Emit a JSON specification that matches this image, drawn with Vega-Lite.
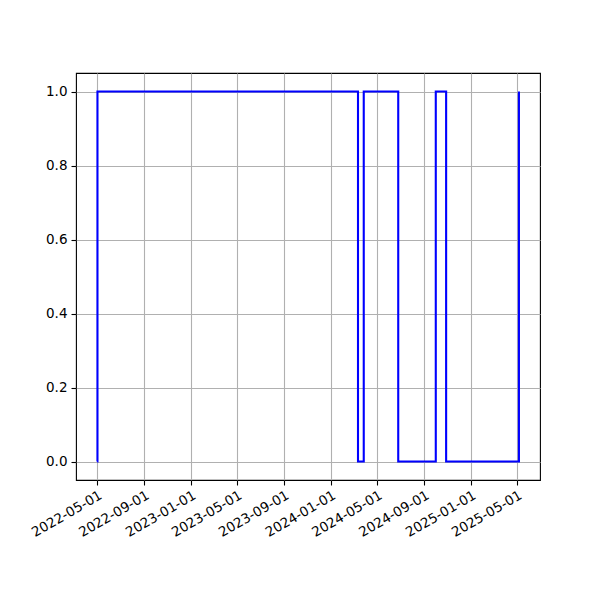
{
  "$schema": "https://vega.github.io/schema/vega-lite/v6.json",
  "width": 464,
  "height": 407,
  "autosize": {"type": "none"},
  "padding": {"left": 76, "top": 73, "right": 60, "bottom": 120},
  "background": "white",
  "config": {
    "view": {"stroke": "black", "strokeWidth": 1.1},
    "axis": {
      "labelFont": "DejaVu Sans",
      "labelFontSize": 13.5,
      "labelColor": "black",
      "domain": false,
      "grid": true,
      "gridColor": "#b0b0b0",
      "gridWidth": 1.1,
      "tickColor": "black",
      "tickSize": 5,
      "tickWidth": 1.1,
      "labelPadding": 4,
      "labelOverlap": false,
      "title": null
    }
  },
  "data": {
    "values": [
      {"date": "2022-05-01", "value": 0},
      {"date": "2022-05-02", "value": 1},
      {"date": "2024-03-12", "value": 0},
      {"date": "2024-03-27", "value": 1},
      {"date": "2024-06-25", "value": 0},
      {"date": "2024-10-01", "value": 1},
      {"date": "2024-10-28", "value": 0},
      {"date": "2025-05-06", "value": 1}
    ]
  },
  "mark": {"type": "line", "interpolate": "step-after", "color": "#0000ff", "strokeWidth": 2.1, "clip": true},
  "encoding": {
    "x": {
      "field": "date",
      "type": "temporal",
      "scale": {
        "type": "utc",
        "domain": [
          {"year": 2022, "month": 3, "date": 7, "utc": true},
          {"year": 2025, "month": 6, "date": 30, "utc": true}
        ]
      },
      "axis": {
        "values": [
          {"year": 2022, "month": 5, "date": 1, "utc": true},
          {"year": 2022, "month": 9, "date": 1, "utc": true},
          {"year": 2023, "month": 1, "date": 1, "utc": true},
          {"year": 2023, "month": 5, "date": 1, "utc": true},
          {"year": 2023, "month": 9, "date": 1, "utc": true},
          {"year": 2024, "month": 1, "date": 1, "utc": true},
          {"year": 2024, "month": 5, "date": 1, "utc": true},
          {"year": 2024, "month": 9, "date": 1, "utc": true},
          {"year": 2025, "month": 1, "date": 1, "utc": true},
          {"year": 2025, "month": 5, "date": 1, "utc": true}
        ],
        "labelExpr": "utcFormat(datum.value, '%Y-%m-%d')",
        "labelAngle": -30,
        "labelAlign": "right",
        "labelBaseline": "top",
        "labelPadding": 3
      }
    },
    "y": {
      "field": "value",
      "type": "quantitative",
      "scale": {"domain": [-0.05, 1.05], "nice": false, "zero": false},
      "axis": {"values": [0, 0.2, 0.4, 0.6, 0.8, 1.0], "format": ".1f"}
    }
  }
}
